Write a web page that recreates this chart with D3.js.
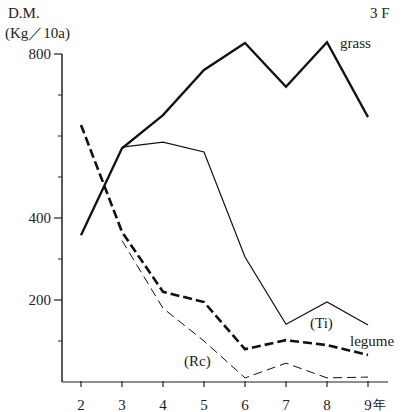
<!DOCTYPE html>
<html>
<head>
<meta charset="utf-8">
<script src="https://cdn.jsdelivr.net/npm/d3@7"></script>
</head>
<body style="margin:0">
<div id="chart-area"></div>
<script>
// data (D.M. kg/10a by year)
let years = [2, 3, 4, 5, 6, 7, 8, 9];
let grass = [358, 570, 651, 761, 827, 720, 829, 646];
let tiYears = [3, 4, 5, 6, 7, 8, 9];
let ti = [573, 585, 561, 305, 141, 195, 139];
let legume = [627, 366, 220, 195, 80, 102, 90, 66];
let rcYears = [3, 4, 5, 6, 7, 8, 9];
let rc = [345, 180, 100, 10, 46, 10, 12];
let yTicks = [200, 400, 800];
let yMinor = [100, 300, 500, 600, 700];

let width = 405, height = 412;
let serif = "Liberation Serif, Times New Roman, serif";

let svg = d3.select("#chart-area").append("svg")
	.attr("width", width)
	.attr("height", height);

// scales
let x = d3.scaleLinear().domain([2, 9]).range([81, 368]);
let y = d3.scaleLinear().domain([0, 800]).range([382, 54]);

// y axis
svg.append("line")
	.attr("x1", 62).attr("x2", 62)
	.attr("y1", y(800)).attr("y2", y(0))
	.attr("stroke", "#222").attr("stroke-width", 1.5);

svg.selectAll(".ymajor")
	.data(yTicks)
	.enter().append("line")
	.attr("x1", 54).attr("x2", 62)
	.attr("y1", d => y(d)).attr("y2", d => y(d))
	.attr("stroke", "#222").attr("stroke-width", 1.2);

svg.selectAll(".yminor")
	.data(yMinor)
	.enter().append("line")
	.attr("x1", 58).attr("x2", 62)
	.attr("y1", d => y(d)).attr("y2", d => y(d))
	.attr("stroke", "#222").attr("stroke-width", 1);

// x axis
svg.append("line")
	.attr("x1", 62).attr("x2", 388)
	.attr("y1", y(0)).attr("y2", y(0))
	.attr("stroke", "#222").attr("stroke-width", 1.2);

svg.selectAll(".xtick")
	.data(years)
	.enter().append("line")
	.attr("x1", d => x(d)).attr("x2", d => x(d))
	.attr("y1", y(0) - 1).attr("y2", y(0) + 5)
	.attr("stroke", "#222").attr("stroke-width", 1.2);

// lines
let line = d3.line()
	.x(d => x(d[0]))
	.y(d => y(d[1]));

svg.append("path")
	.attr("d", line(d3.zip(years, grass)))
	.attr("fill", "none").attr("stroke", "#111").attr("stroke-width", 2.3);

svg.append("path")
	.attr("d", line(d3.zip(tiYears, ti)))
	.attr("fill", "none").attr("stroke", "#111").attr("stroke-width", 1.2);

svg.append("path")
	.attr("d", line(d3.zip(years, legume)))
	.attr("fill", "none").attr("stroke", "#111").attr("stroke-width", 2.6)
	.attr("stroke-dasharray", "9,4");

svg.append("path")
	.attr("d", line(d3.zip(rcYears, rc)))
	.attr("fill", "none").attr("stroke", "#111").attr("stroke-width", 1)
	.attr("stroke-dasharray", "9,5");

// all texts: tick labels and annotations
let texts = [];
yTicks.forEach(v => texts.push({t: String(v), x: 51, y: y(v) + 5, a: "end"}));
years.forEach(v => texts.push({t: String(v), x: x(v), y: 410, a: "middle"}));
texts.push({t: "年", x: x(9) + 5, y: 409, a: "start", s: 13});
texts.push({t: "D.M.", x: 8, y: 18, a: "start"});
texts.push({t: "(Kg／10a)", x: 5, y: 38, a: "start"});
texts.push({t: "3 F", x: 370, y: 18, a: "start"});
texts.push({t: "grass", x: 340, y: 48, a: "start"});
texts.push({t: "(Ti)", x: 310, y: 328, a: "start"});
texts.push({t: "legume", x: 350, y: 346, a: "start"});
texts.push({t: "(Rc)", x: 184, y: 366, a: "start"});

svg.selectAll("text")
	.data(texts)
	.enter().append("text")
	.attr("x", d => d.x).attr("y", d => d.y)
	.attr("text-anchor", d => d.a)
	.style("font-family", serif)
	.attr("font-size", d => d.s || 15)
	.attr("fill", "#222")
	.text(d => d.t);
</script>
</body>
</html>
